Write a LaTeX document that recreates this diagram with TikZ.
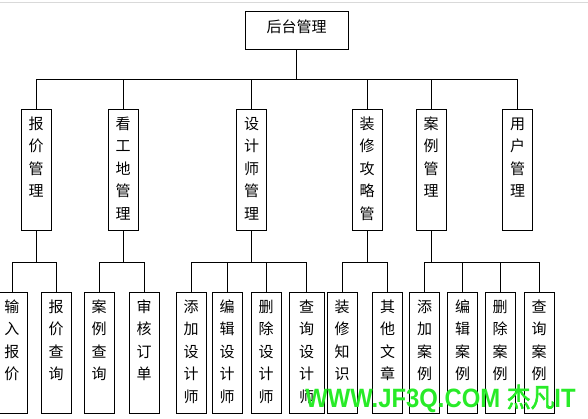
\documentclass[tikz,border=0pt]{standalone}
\usepackage{fontspec}
\setmainfont{Noto Sans CJK SC}
\newfontfamily\wmfont{Liberation Sans}
\newfontfamily\wmcjk{Noto Sans CJK SC}[FakeBold=2.5]
\usepackage{xcolor}
\definecolor{wmgreen}{RGB}{40,235,40}
\newcommand{\vcol}[1]{\parbox[t][121pt][t]{30pt}{\centering\rule{0pt}{20pt}#1}}

\begin{document}
\begin{tikzpicture}[x=1pt, y=-1pt, line width=0.9pt,
    font=\fontsize{15}{22.5}\selectfont,
    rootbox/.style={draw, minimum width=103pt, minimum height=38pt, inner sep=0pt, text height=13pt, text depth=9pt},
    colbox/.style={draw, anchor=north, inner sep=0pt},
    wmark/.style={text=wmgreen, anchor=base west, inner sep=0pt, xscale=0.9, font=\fontsize{26.5}{30}\selectfont}]
    \clip (0,0) rectangle (588,418);
    % Screen edge
    \draw[gray!30, line width=1pt] (0,2.5) -- (588,2.5);
    % Root
    \node[rootbox] (root) at (296.5,30) {后台管理};
    % Modules
    \node[colbox] (quote) at (36,109) {\vcol{报\\价\\管\\理}};
    \node[colbox] (site) at (123,109) {\vcol{看\\工\\地\\管\\理}};
    \node[colbox] (designer) at (251.5,109) {\vcol{设\\计\\师\\管\\理}};
    \node[colbox] (guide) at (367,109) {\vcol{装\\修\\攻\\略\\管}};
    \node[colbox] (case) at (431,109) {\vcol{案\\例\\管\\理}};
    \node[colbox] (user) at (517.5,109) {\vcol{用\\户\\管\\理}};
    % Functions
    \node[colbox] (qinput) at (12,292) {\vcol{输\\入\\报\\价}};
    \node[colbox] (qsearch) at (56,292) {\vcol{报\\价\\查\\询}};
    \node[colbox] (scase) at (99,292) {\vcol{案\\例\\查\\询}};
    \node[colbox] (saudit) at (144,292) {\vcol{审\\核\\订\\单}};
    \node[colbox] (dadd) at (191,292) {\vcol{添\\加\\设\\计\\师}};
    \node[colbox] (dedit) at (227,292) {\vcol{编\\辑\\设\\计\\师}};
    \node[colbox] (ddel) at (266,292) {\vcol{删\\除\\设\\计\\师}};
    \node[colbox, minimum width=35pt] (dfind) at (306.5,292) {\vcol{查\\询\\设\\计\\师}};
    \node[colbox] (gknow) at (342,292) {\vcol{装\\修\\知\\识}};
    \node[colbox] (gother) at (387.5,292) {\vcol{其\\他\\文\\章}};
    \node[colbox] (cadd) at (424.5,292) {\vcol{添\\加\\案\\例}};
    \node[colbox] (cedit) at (462.5,292) {\vcol{编\\辑\\案\\例}};
    \node[colbox] (cdel) at (500,292) {\vcol{删\\除\\案\\例}};
    \node[colbox] (cfind) at (539,292) {\vcol{查\\询\\案\\例}};
    % Tree lines
    \foreach \m in {quote,site,designer,guide,case,user}
      \draw (root.south) -- ++(0,30) -| (\m.north);
    \foreach \m/\f in {quote/qinput, quote/qsearch, site/scase, site/saudit,
        designer/dadd, designer/dedit, designer/ddel, designer/dfind,
        guide/gknow, guide/gother, case/cadd, case/cedit, case/cdel, case/cfind}
      \draw (\m.south) -- ++(0,32) -| (\f.north);
    % Watermark
    \node[wmark] (wm) at (305,407) {{\wmfont\bfseries WWW.JF3Q.COM }{\wmcjk 杰凡}{\wmfont\bfseries IT}};
\end{tikzpicture}
\end{document}
